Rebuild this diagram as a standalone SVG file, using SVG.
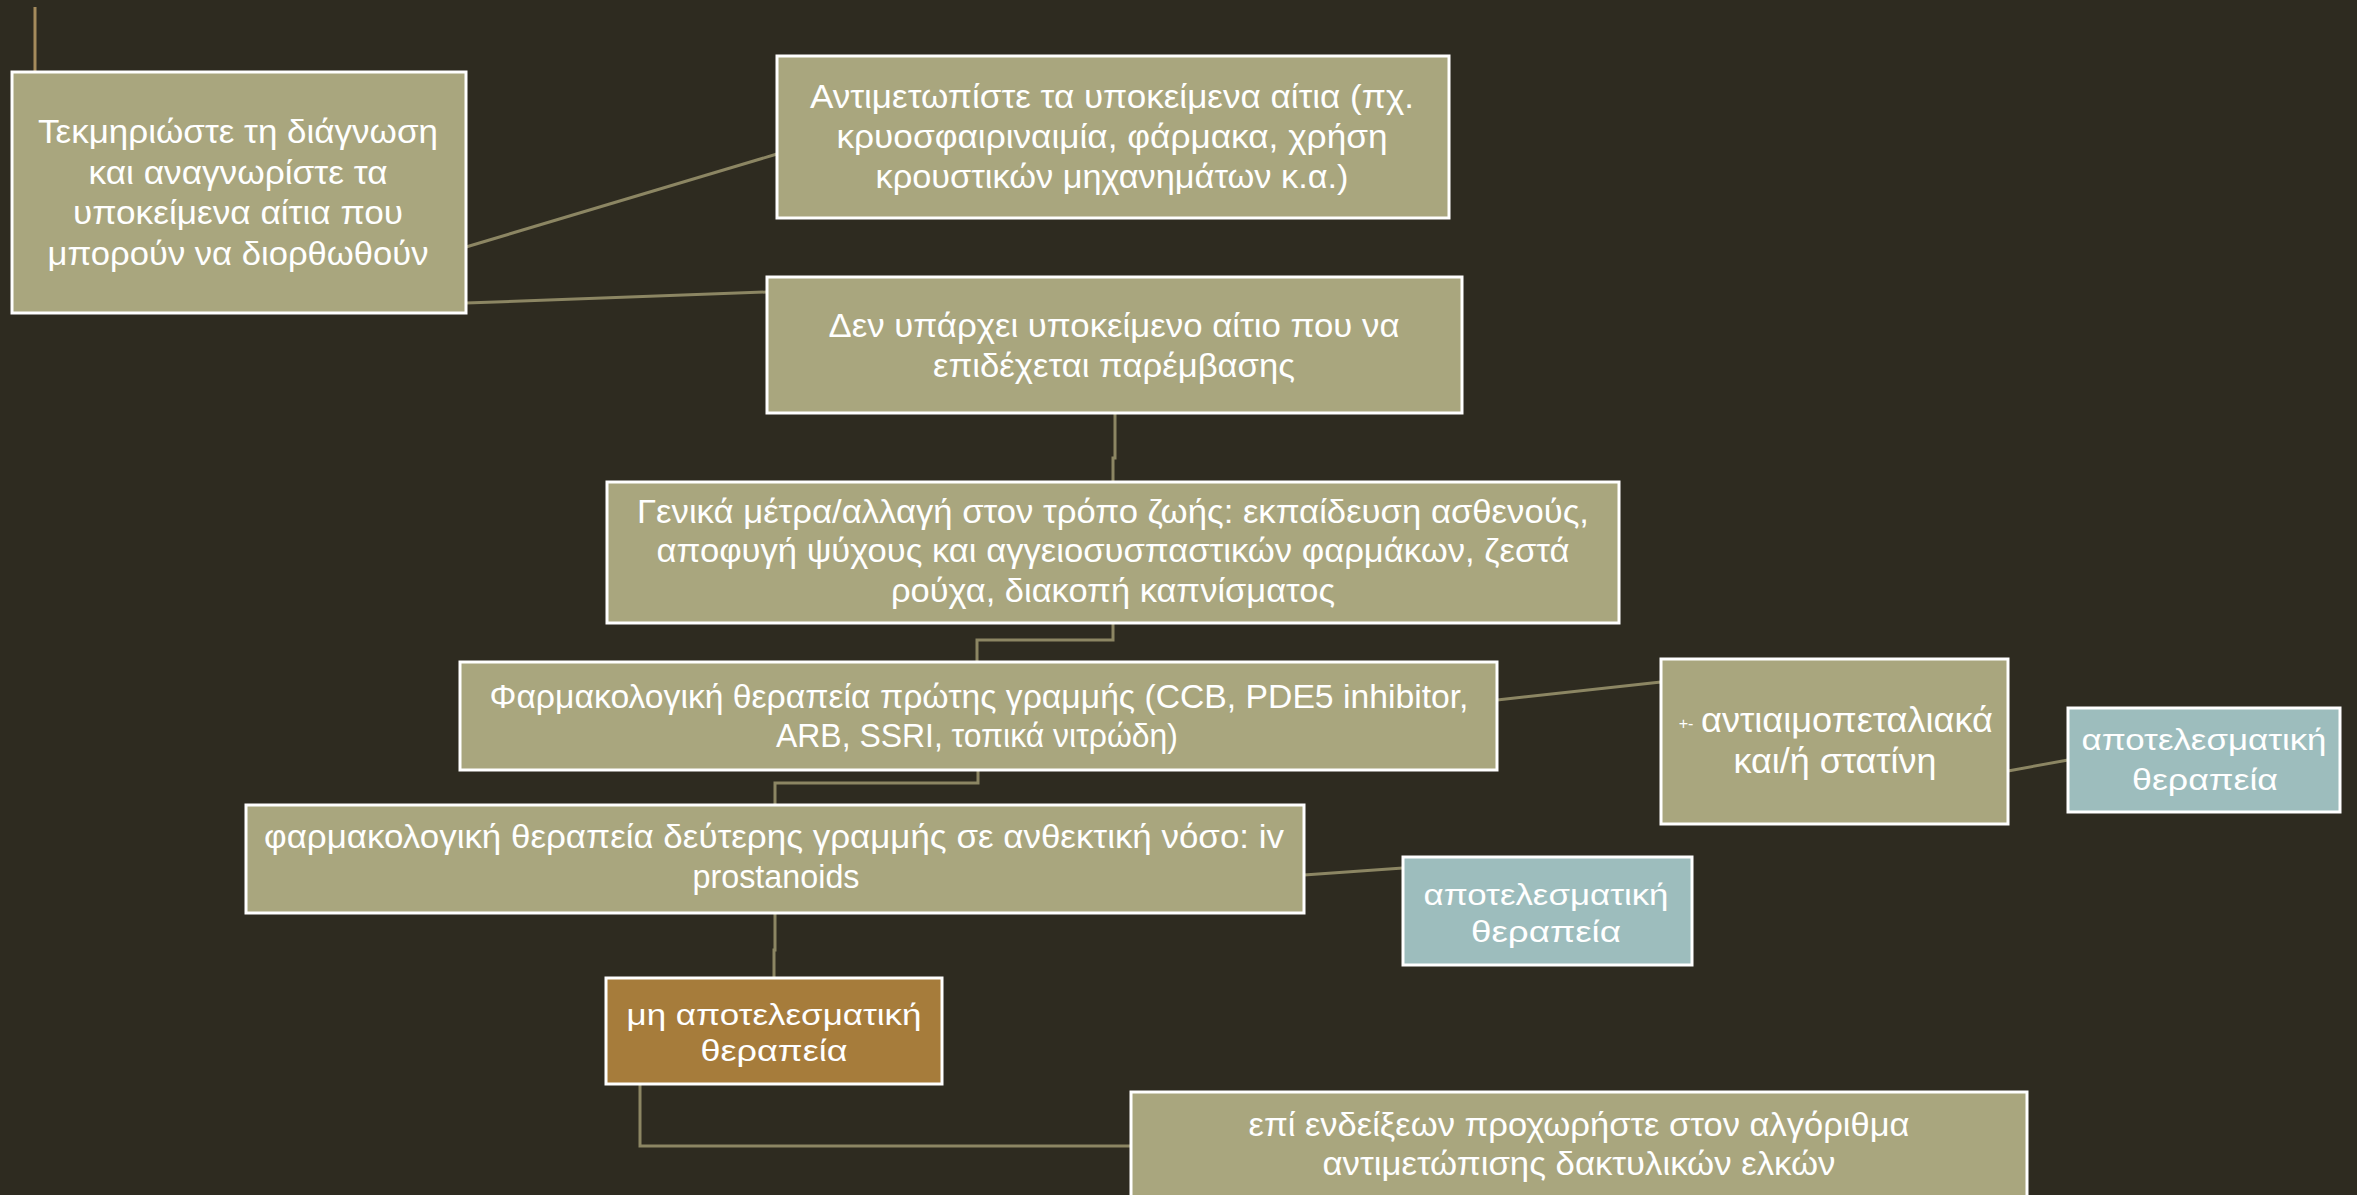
<svg xmlns="http://www.w3.org/2000/svg" width="2357" height="1195" viewBox="0 0 2357 1195">
<style>
.bg{fill:#2e2b20}
.box{fill:#a9a67e;stroke:#ffffff;stroke-width:3}
.teal{fill:#9dbdbd;stroke:#ffffff;stroke-width:3}
.brown{fill:#a67c3b;stroke:#ffffff;stroke-width:3}
.c{fill:none;stroke:#8c8663;stroke-width:3}
.ct{fill:none;stroke:#a58b5c;stroke-width:3}
text{fill:#ffffff;font-family:"Liberation Sans","DejaVu Sans",sans-serif;text-anchor:middle}
.n{font-size:33px}
.w{font-size:30px}
</style>
<rect class="bg" x="0" y="0" width="2357" height="1195"/>
<g id="connectors">
<path class="ct" d="M35 7 V72"/>
<path class="c" d="M466 247 L777 154"/>
<path class="c" d="M466 303 L767 292"/>
<path class="c" d="M1115 413 V458 H1113 V482"/>
<path class="c" d="M1113 623 V640 H977 V662"/>
<path class="c" d="M978 770 V783 H775 V805"/>
<path class="c" d="M1497 700 L1661 682"/>
<path class="c" d="M2008 771 L2068 760"/>
<path class="c" d="M1304 875 L1403 868"/>
<path class="c" d="M775 913 V950 H774 V978"/>
<path class="c" d="M640 1084 V1146 H1131"/>
</g>
<g id="n1">
<rect class="box" x="12" y="72" width="454" height="241"/>
<text class="n" x="238" y="143" textLength="400" lengthAdjust="spacingAndGlyphs">Τεκμηριώστε τη διάγνωση</text>
<text class="n" x="238" y="184" textLength="299" lengthAdjust="spacingAndGlyphs">και αναγνωρίστε τα</text>
<text class="n" x="238" y="224" textLength="330" lengthAdjust="spacingAndGlyphs">υποκείμενα αίτια που</text>
<text class="n" x="238" y="265" textLength="381" lengthAdjust="spacingAndGlyphs">μπορούν να διορθωθούν</text>
</g>
<g id="n2">
<rect class="box" x="777" y="56" width="672" height="162"/>
<text class="n" x="1112" y="108" textLength="604" lengthAdjust="spacingAndGlyphs">Αντιμετωπίστε τα υποκείμενα αίτια (πχ.</text>
<text class="n" x="1112" y="148" textLength="551" lengthAdjust="spacingAndGlyphs">κρυοσφαιριναιμία, φάρμακα, χρήση</text>
<text class="n" x="1112" y="188" textLength="473" lengthAdjust="spacingAndGlyphs">κρουστικών μηχανημάτων κ.α.)</text>
</g>
<g id="n3">
<rect class="box" x="767" y="277" width="695" height="136"/>
<text class="n" x="1114" y="337" textLength="571" lengthAdjust="spacingAndGlyphs">Δεν υπάρχει υποκείμενο αίτιο που να</text>
<text class="n" x="1114" y="377" textLength="362" lengthAdjust="spacingAndGlyphs">επιδέχεται παρέμβασης</text>
</g>
<g id="n4">
<rect class="box" x="607" y="482" width="1012" height="141"/>
<text class="n" x="1113" y="523" textLength="952" lengthAdjust="spacingAndGlyphs">Γενικά μέτρα/αλλαγή στον τρόπο ζωής: εκπαίδευση ασθενούς,</text>
<text class="n" x="1113" y="562" textLength="913" lengthAdjust="spacingAndGlyphs">αποφυγή ψύχους και αγγειοσυσπαστικών φαρμάκων, ζεστά</text>
<text class="n" x="1113" y="602" textLength="444" lengthAdjust="spacingAndGlyphs">ρούχα, διακοπή καπνίσματος</text>
</g>
<g id="n5">
<rect class="box" x="460" y="662" width="1037" height="108"/>
<text class="n" x="979" y="708" textLength="979" lengthAdjust="spacingAndGlyphs">Φαρμακολογική θεραπεία πρώτης γραμμής (CCB, PDE5 inhibitor,</text>
<text class="n" x="977" y="747" textLength="402" lengthAdjust="spacingAndGlyphs">ARB, SSRI, τοπικά νιτρώδη)</text>
</g>
<g id="n6">
<rect class="box" x="1661" y="659" width="347" height="165"/>
<text x="1686" y="729" style="font-size:16px">+-</text>
<text x="1847" y="732" style="font-size:35px" textLength="292" lengthAdjust="spacingAndGlyphs">αντιαιμοπεταλιακά</text>
<text x="1835" y="773" style="font-size:35px" textLength="203" lengthAdjust="spacingAndGlyphs">και/ή στατίνη</text>
</g>
<g id="n7">
<rect class="teal" x="2068" y="708" width="272" height="104"/>
<text class="w" x="2204" y="750" textLength="245" lengthAdjust="spacingAndGlyphs">αποτελεσματική</text>
<text class="w" x="2205" y="790" textLength="146" lengthAdjust="spacingAndGlyphs">θεραπεία</text>
</g>
<g id="n8">
<rect class="box" x="246" y="805" width="1058" height="108"/>
<text class="n" x="774" y="848" textLength="1020" lengthAdjust="spacingAndGlyphs">φαρμακολογική θεραπεία δεύτερης γραμμής σε ανθεκτική νόσο: iv</text>
<text class="n" x="776" y="888" textLength="167" lengthAdjust="spacingAndGlyphs">prostanoids</text>
</g>
<g id="n9">
<rect class="teal" x="1403" y="857" width="289" height="108"/>
<text class="w" x="1546" y="905" textLength="245" lengthAdjust="spacingAndGlyphs">αποτελεσματική</text>
<text class="w" x="1546" y="942" textLength="150" lengthAdjust="spacingAndGlyphs">θεραπεία</text>
</g>
<g id="n10">
<rect class="brown" x="606" y="978" width="336" height="106"/>
<text class="w" x="774" y="1025" textLength="295" lengthAdjust="spacingAndGlyphs">μη αποτελεσματική</text>
<text class="w" x="774" y="1061" textLength="147" lengthAdjust="spacingAndGlyphs">θεραπεία</text>
</g>
<g id="n11">
<rect class="box" x="1131" y="1092" width="896" height="120"/>
<text class="n" x="1579" y="1136" textLength="661" lengthAdjust="spacingAndGlyphs">επί ενδείξεων προχωρήστε στον αλγόριθμα</text>
<text class="n" x="1579" y="1175" textLength="513" lengthAdjust="spacingAndGlyphs">αντιμετώπισης δακτυλικών ελκών</text>
</g>
</svg>
